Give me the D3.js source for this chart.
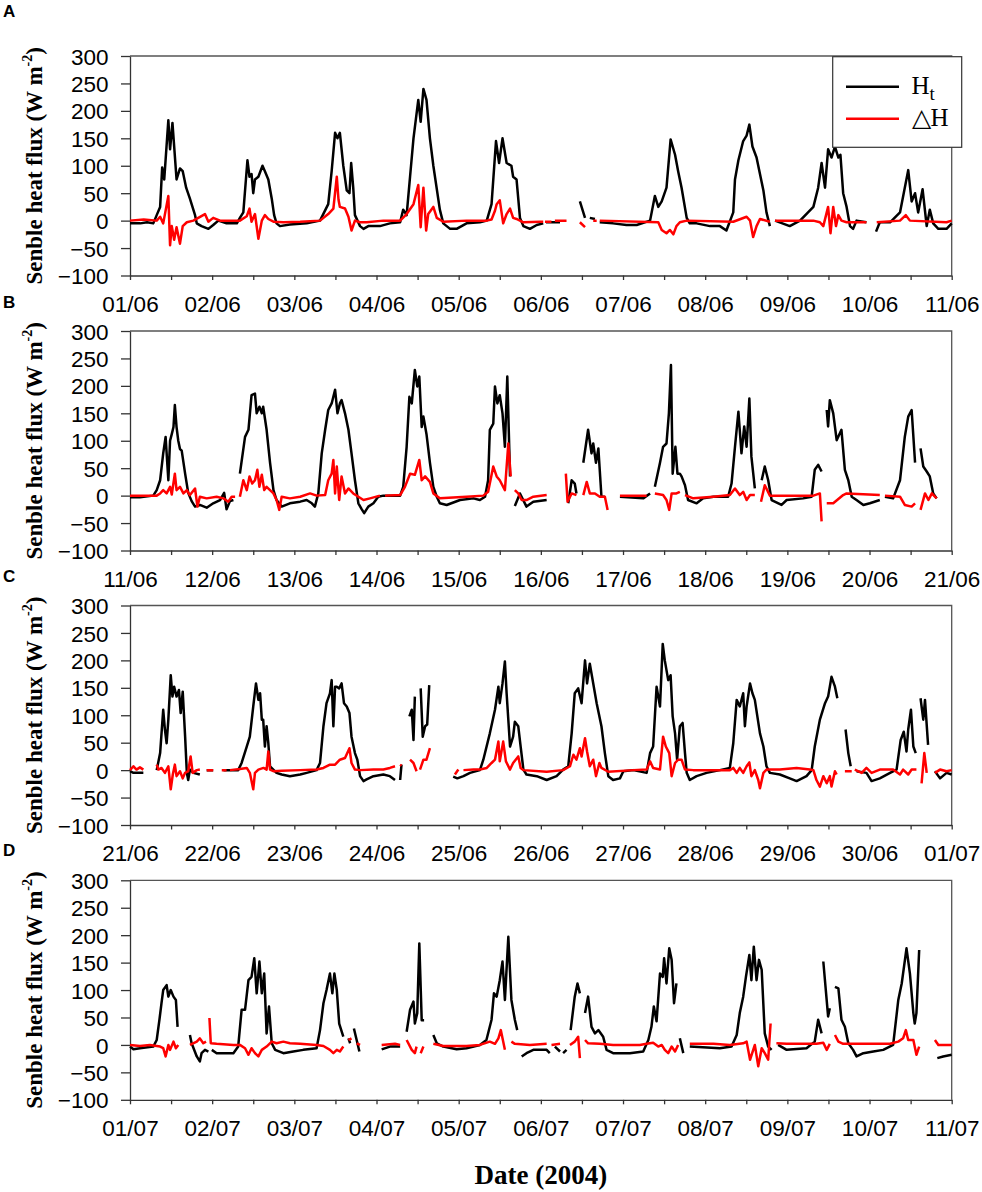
<!DOCTYPE html>
<html>
<head>
<meta charset="utf-8">
<script src="https://cdn.jsdelivr.net/npm/d3@7"></script>
<style>
  body { margin: 0; background: #fff; }
  svg { display: block; }
  .tick text { font-family: "Liberation Sans", Arial, sans-serif; font-size: 22.5px; fill: #000; }
</style>
</head>
<body>
<div id="chart"></div>
<script>
'use strict';

// time is in hours from the first tick of each panel, values in W m-2
// a null value breaks the line (missing data)
const A_Ht = [[0,-5],[3,-5],[5,-3],[6.8,-5],[7.8,10],[8.8,25],[9.4,97],[10,75],[11.2,183],[11.7,130],[12.4,178],[13.6,75],[14.6,95],[15.4,90],[16.4,60],[17.5,40],[19,10],[19.5,-5],[20.9,-10],[22.9,-15],[24.3,-8],[25.8,0],[28.2,-5],[31.2,-5],[32.1,5],[33.1,15],[34.3,110],[34.9,80],[35.5,85],[36,50],[36.5,75],[37.5,80],[38.7,100],[39.4,90],[40.4,75],[41.4,40],[42.1,10],[42.8,-5],[43.8,-10],[46.7,-7],[51.6,-5],[55.5,0],[57.9,30],[58.9,90],[59.9,160],[60.6,150],[61.3,160],[62.3,100],[63.3,55],[64.1,50],[64.6,105],[65.2,60],[65.7,10],[67.2,-10],[68.2,-15],[69.6,-10],[73,-10],[75.9,-5],[78.9,-3],[79.8,20],[80.8,10],[81.8,80],[82.8,150],[84.2,220],[84.9,180],[85.7,240],[86.6,220],[87.6,150],[88.6,100],[90.5,20],[91.5,-5],[93.5,-15],[95.4,-15],[98.3,-5],[102.2,-3],[104.2,0],[105.6,30],[106.9,145],[107.8,105],[108.8,150],[110,105],[111.4,100],[111.9,80],[112.9,75],[113.9,5],[114.9,-10],[116.8,-15],[118.8,-8],[120.7,-5],[121,null],[121.5,-3],[125.6,-3],[126,null],[131.4,35],[132.9,5],[133.2,null],[134.3,5],[135.8,3],[136.2,null],[137.2,-3],[141.1,-5],[145,-8],[148,-8],[151.9,0],[153.3,45],[154.3,25],[155.3,35],[156.7,60],[157.9,148],[159.2,120],[160.1,90],[161.1,60],[162.6,5],[163.5,-5],[165.5,-5],[169.4,-10],[172.3,-10],[174.2,-18],[176.2,15],[176.7,75],[177.7,110],[179.1,145],[180.1,155],[180.9,175],[181.8,135],[183,115],[184,85],[185,55],[185.9,15],[186.9,-10],[187.3,null],[188.4,0],[192.7,-10],[195.7,0],[199.6,25],[201,60],[202,105],[203,60],[203.9,130],[204.9,115],[205.9,135],[206.9,115],[207.5,120],[208.3,50],[209.3,25],[210.3,-10],[211.2,-15],[212.2,0],[215.1,-3],[215.5,null],[217.9,-20],[219,-3],[222,-3],[224.9,15],[226.3,60],[227.3,92],[228.3,35],[229.3,50],[230.2,15],[231.5,57],[232.7,-10],[233.6,20],[234.6,-5],[236.1,-15],[238.5,-15],[240,-5]];
const A_dH = [[0,0],[4,2],[7.8,0],[8.8,7],[9.7,-5],[11.2,45],[11.7,-45],[12.2,-10],[12.9,-35],[13.6,-12],[14.6,-42],[15.4,-10],[16.6,-3],[18.5,0],[21.9,12],[22.9,-2],[24.3,5],[26.3,0],[32.1,0],[34.1,8],[34.9,22],[35.5,-2],[36.5,12],[37.5,-33],[38.5,0],[39.4,10],[40.4,3],[41.9,-2],[44.8,-3],[49.7,-2],[55.5,0],[57.9,12],[59.4,22],[60.4,80],[60.9,38],[61.3,25],[62.8,22],[63.8,7],[64.7,-18],[65.7,0],[67.2,-3],[69.1,-3],[74,0],[78.9,0],[80.8,12],[82.8,30],[84.2,65],[84.9,-12],[85.7,60],[86.5,-18],[87.1,12],[88.6,25],[89.6,5],[91.5,-2],[98.3,0],[104.2,0],[105.6,2],[106.6,18],[107.1,30],[108,37],[109,-5],[110,12],[111,22],[111.9,5],[112.9,3],[114.9,-3],[119.7,-2],[120.7,-2],[121,null],[121.2,-2],[123.1,-2],[123.5,null],[124.1,0],[127.5,0],[127.8,null],[131.4,-3],[132.9,-12],[133.2,null],[135.3,0],[136.3,0],[136.6,null],[137.2,0],[154.3,-3],[155.3,-17],[156.7,-23],[157.7,-17],[158.7,-25],[159.6,-10],[160.6,-3],[162.6,0],[176.2,-2],[180.1,7],[181.1,0],[182,-30],[183,-10],[184,3],[186.9,-2],[187.3,null],[188.4,0],[199.6,0],[201.5,-3],[202.5,-10],[203.9,25],[204.6,-23],[205.4,25],[206.2,-10],[206.9,10],[207.8,0],[209.3,-3],[215.1,-3],[215.5,null],[218.1,-3],[224.9,0],[226.6,10],[227.8,0],[238.5,-3],[240,0]];

const B_Ht = [[0,-3],[2.9,-3],[6.8,0],[7.8,10],[8.8,28],[9.7,77],[10.4,107],[11.2,28],[11.7,100],[12.2,112],[12.7,125],[13.1,165],[13.6,125],[14.1,100],[14.6,85],[15.1,82],[16.1,40],[17,5],[18,-10],[19,-20],[20.4,-17],[22.4,-22],[24.3,-14],[26.3,-8],[27.5,5],[28.2,-25],[29.2,-10],[30.2,-8],[30.6,null],[32.1,40],[33.6,107],[34.6,120],[35.5,183],[36.5,186],[37,150],[37.8,162],[38.5,150],[38.9,162],[39.9,120],[40.9,60],[41.9,10],[42.8,-8],[44.3,-20],[46.7,-14],[49.7,-11],[51.6,-8],[53.1,-14],[54,-20],[55,4],[56,77],[57,120],[57.9,156],[58.9,168],[59.9,193],[60.6,150],[61.3,168],[61.8,174],[62.8,150],[63.8,120],[64.7,77],[65.7,28],[66.7,-14],[67.7,-25],[68.4,-32],[69.6,-20],[71.1,-14],[72.5,-2],[74,0],[78.9,0],[79.8,16],[80.8,89],[81.6,180],[82.3,168],[83.2,229],[83.9,199],[84.5,217],[85.2,125],[85.7,144],[86.6,112],[87.6,60],[88.6,16],[89.6,-2],[90.5,-14],[92.5,-17],[96.4,-8],[100.3,-5],[102.2,-8],[103.7,-2],[104.6,28],[105.1,120],[106.1,131],[106.6,199],[107.3,168],[108,183],[108.8,150],[109.5,89],[110.2,217],[111,35],[111.3,null],[112.4,-19],[113.9,4],[115.8,-20],[117.8,-11],[121.7,-8],[122,null],[128,-14],[129,28],[129.9,22],[130.4,4],[130.7,null],[132.4,60],[133.8,120],[134.8,77],[135.3,95],[136.1,60],[136.8,86],[137.7,-2],[138.7,-2],[139,null],[143.1,-2],[149.9,-5],[151.9,4],[152.3,null],[153.3,16],[154.8,60],[155.7,89],[156.7,95],[157.4,150],[158,238],[158.5,40],[159.3,89],[159.9,40],[160.6,40],[161.1,35],[162.1,19],[163,-8],[165.5,-14],[167.4,-5],[170.4,-2],[174.7,-2],[175.7,22],[176.7,89],[177.7,153],[178.6,77],[179.4,126],[180.1,89],[180.9,177],[181.5,71],[182.5,13],[182.8,null],[184.5,28],[185.4,53],[186.4,28],[187.4,-8],[190.3,-17],[191.8,-8],[196.6,-5],[199.1,-2],[200,47],[201,56],[202,44],[202.3,null],[203.5,156],[203.9,126],[204.4,174],[205.4,150],[206.4,101],[207.8,120],[208.8,47],[209.8,28],[210.8,-2],[212.2,-8],[214.2,-17],[216.1,-14],[219,-8],[219.3,null],[220.5,-2],[222.9,-5],[224.9,28],[226.3,107],[227.3,144],[228.3,156],[229.3,60],[229.6,null],[230.9,86],[231.7,53],[232.7,44],[233.6,35],[234.6,4],[235.6,-5]];
const B_dH = [[0,0],[7.8,0],[8.8,4],[9.7,10],[10.7,4],[11.7,16],[12.2,2],[13.1,40],[13.6,10],[14.6,16],[15.6,4],[16.6,10],[17.5,1],[19,13],[19.7,-20],[20.4,-2],[22.4,-5],[25.3,-2],[27.3,-5],[28.7,-11],[29.7,-2],[30.7,-2],[31,null],[32.1,-2],[33.1,28],[34.1,10],[34.9,35],[35.7,22],[36.5,28],[37.2,47],[37.8,16],[38.5,38],[39.2,10],[39.9,16],[40.9,10],[41.9,4],[42.8,-8],[43.6,-26],[44.3,-2],[46.7,-5],[49.7,-2],[52.6,4],[54.5,0],[57,1],[57.9,28],[58.9,40],[59.4,65],[59.9,4],[60.4,53],[61.1,-8],[61.8,35],[62.8,4],[63.8,13],[65.2,4],[66.7,-2],[68.2,-8],[70.1,-5],[73,0],[73.4,null],[74.5,0],[78.9,1],[80.3,16],[81.8,40],[83.2,38],[84.5,65],[85.2,28],[86.2,35],[87.6,25],[88.6,4],[90.5,-5],[98.3,-2],[103.2,0],[104.6,7],[106.1,53],[107.1,35],[108,28],[109.5,10],[110.5,95],[111.2,35],[111.5,null],[112.4,10],[113.4,4],[114.4,-8],[115.8,-8],[117.8,-2],[121.7,1],[122,null],[127.3,40],[127.8,-11],[129,4],[130.4,1],[130.7,null],[132.4,1],[133.4,25],[134.3,4],[135.8,4],[137.2,-2],[138.7,-2],[139.5,-26],[139.8,null],[143.1,0],[150.9,0],[151.3,null],[153.3,4],[155.7,1],[156.7,-8],[157.5,-26],[158.2,4],[159.6,4],[160.6,7],[160.9,null],[162.1,1],[164.5,-5],[170.4,-2],[175.2,1],[176.7,13],[178.1,1],[179.1,7],[180.1,-8],[181.1,1],[182.5,1],[182.8,null],[184.3,-11],[185.4,19],[186.9,0],[199.6,0],[201.5,4],[202,-47],[202.3,null],[203.5,-14],[205.4,-14],[208.3,1],[209.3,4],[219,1],[219.3,null],[220.5,0],[224.9,-2],[226.3,-17],[228.3,-20],[229.3,-14],[229.6,null],[230.9,-26],[232.2,4],[233.2,-8],[234.2,4],[235.6,-5]];

const C_Ht = [[0,-2],[1,-5],[3.9,-5],[4.2,null],[7.8,0],[8.8,31],[9.7,110],[10.2,74],[10.7,49],[11.2,92],[11.9,173],[12.4,134],[12.9,152],[13.6,134],[14.3,146],[14.8,104],[15.4,143],[16.1,61],[16.6,-5],[17,-18],[17.5,1],[18.5,-5],[20.4,-8],[20.8,null],[22.4,0],[24.3,0],[24.6,null],[27.3,0],[29.2,0],[31.6,0],[32.6,13],[34.1,43],[35,61],[36,116],[36.8,158],[37.5,128],[38,140],[38.5,92],[38.9,92],[39.4,43],[39.9,80],[40.4,49],[40.9,7],[42.8,-5],[44.3,-8],[46.7,-11],[49.7,-8],[51.6,-5],[54.5,0],[55.5,13],[56.5,80],[57.4,122],[58.4,140],[58.9,164],[59.4,80],[59.9,152],[60.4,152],[61.1,149],[61.8,158],[62.5,122],[63.3,116],[64.1,104],[64.7,61],[65.7,31],[66.4,19],[67.2,-11],[68.2,-20],[69.1,-17],[71.1,-11],[74,-8],[75.9,-11],[77.4,-18],[77.7,null],[78.9,-18],[79.3,10],[79.6,null],[81.6,98],[82.3,110],[82.8,55],[83.2,134],[83.5,null],[84.9,149],[85.5,61],[86.2,80],[86.8,83],[87.4,155],[87.7,null],[94.4,-12],[95.6,-15],[97.4,-11],[99.3,-5],[102.2,0],[103.2,19],[105.1,67],[106.6,110],[107.6,152],[108,122],[108.8,158],[109.5,198],[110,140],[111,43],[111.9,61],[112.4,88],[113.4,80],[114.1,43],[114.9,1],[115.8,-8],[118.8,-11],[121.7,-18],[124.6,-11],[126.5,1],[128,7],[129,67],[129.9,140],[130.9,149],[131.9,122],[132.9,200],[133.5,158],[134.3,194],[135.3,158],[136.3,122],[137.7,80],[138.7,31],[139.7,-11],[141.1,-18],[143.1,-15],[144.1,-2],[147,0],[150.9,-5],[151.9,31],[152.8,43],[153.8,152],[154.8,116],[155.6,230],[156.2,200],[157.2,164],[157.9,173],[158.5,98],[159.2,67],[159.8,19],[160.6,80],[161.4,86],[162.1,31],[162.6,-5],[163.5,-18],[165.5,-11],[168.4,-5],[172.3,0],[175.2,4],[176.2,49],[177.2,128],[178.1,116],[179.1,140],[179.6,80],[180.1,116],[181.1,158],[181.8,140],[182.5,128],[184,67],[185,43],[185.9,7],[186.9,-5],[189.8,-8],[192.7,-15],[194.7,-20],[197.6,-11],[199.1,0],[200,43],[201.5,92],[203,122],[203.9,134],[204.9,170],[205.9,152],[206.6,131],[206.9,null],[209,74],[209.8,31],[210.5,7],[210.8,null],[212.2,-2],[215.1,-5],[216.6,-20],[219,-15],[222,-5],[223.9,1],[225.1,55],[226,70],[226.8,34],[227.3,74],[228.1,110],[228.8,43],[229.5,31],[229.8,null],[230.9,131],[231.7,92],[232.2,128],[233.1,46],[233.4,null],[235.1,-2],[236.6,-15],[238.5,-5],[240,-8]];
const C_dH = [[0,0],[1,7],[1.9,1],[2.9,5],[3.9,1],[4.2,null],[7.8,10],[8.3,1],[9.2,4],[10.2,-5],[11.2,7],[11.9,-35],[12.5,-8],[13.1,10],[13.6,-11],[14.6,-2],[15.4,-15],[16.1,-5],[17,-2],[17.7,25],[18.3,-5],[19.5,0],[20.4,1],[20.8,null],[22.4,0],[24.3,0],[24.6,null],[26.8,0],[28.2,0],[28.5,null],[29.2,0],[32.1,2],[34.1,4],[35,-5],[36,-35],[36.5,-5],[37.5,1],[39,4],[39.9,1],[40.4,34],[40.9,1],[41.9,-2],[44.3,-1],[49.7,0],[54.5,1],[56.5,4],[58.4,10],[59.9,10],[61.3,19],[62.8,22],[64.1,40],[64.7,13],[65.7,1],[67.2,0],[71.1,1],[74,1],[75.9,4],[77.4,7],[77.7,null],[78.9,10],[79.3,8],[79.6,null],[81.8,19],[82.8,13],[83.7,-2],[84,null],[84.7,1],[85.7,19],[86.6,19],[87.6,40],[87.9,null],[94.9,-8],[95.9,1],[96.2,null],[97.4,0],[100.3,1],[102.2,1],[104.2,4],[105.6,13],[106.6,19],[107.6,52],[108,16],[109,52],[109.8,16],[111,1],[111.9,13],[113.4,25],[114.1,4],[114.9,0],[121.7,-3],[126.5,0],[128.5,7],[129.5,28],[130.4,19],[131.4,40],[131.9,25],[132.9,58],[133.5,34],[134.3,7],[135.3,19],[136.1,-11],[137.1,13],[137.7,4],[139.7,-3],[147,0],[150.9,1],[151.9,16],[152.8,4],[154.8,1],[155.7,61],[156.5,43],[157.5,31],[158.2,-11],[159.2,13],[160.1,19],[161.1,19],[162.1,1],[164.5,0],[175.2,0],[176.2,4],[177.2,-5],[178.1,4],[179.1,-5],[180.1,7],[180.9,14],[181.5,-11],[182.5,0],[183.5,-18],[184,-33],[185,-5],[185.9,1],[189.8,1],[194.7,4],[198.6,1],[199.6,0],[200.5,-18],[201.5,-30],[202.5,-11],[203.5,-24],[204.4,-11],[204.9,-30],[205.9,-2],[206.4,-8],[206.7,null],[208.8,-2],[210.8,-2],[211.1,null],[211.7,1],[213.7,-5],[215.1,4],[216.6,-5],[219,1],[222.9,1],[224.9,-8],[225.8,1],[227.3,-8],[228.3,1],[229.7,1],[230,null],[231.2,-24],[232,31],[232.7,-5],[233,null],[235.1,-5],[236.6,1],[238.5,-2],[240,0]];

const D_Ht = [[0,-3],[1,-8],[2.9,-6],[6.8,-3],[7.8,9],[8.6,46],[9.2,76],[9.7,100],[10.7,109],[11.2,88],[11.9,100],[12.7,88],[13.4,82],[13.9,33],[14.2,null],[17.5,18],[18,3],[19.5,-21],[20.4,-30],[20.9,-15],[21.9,-9],[22.9,-12],[23.2,null],[23.9,-9],[25.3,-15],[30.2,-15],[31.6,-3],[32.6,64],[33.6,64],[34.6,118],[35.5,124],[36.3,158],[37,94],[37.8,152],[38.5,94],[39.2,130],[39.9,21],[40.6,70],[41.4,3],[42.4,-9],[44.8,-15],[47.7,-12],[50.6,-9],[54.5,-6],[55.5,27],[56.5,76],[57.4,100],[58.4,130],[59.1,94],[59.7,130],[60.4,100],[61.1,39],[62.3,15],[62.6,null],[63.8,12],[64.3,3],[64.6,null],[65.4,30],[66.2,9],[67,-12],[67.3,null],[73.5,-8],[75.9,-3],[78.9,-3],[79.2,null],[80.8,24],[81.8,64],[82.8,79],[83.2,39],[83.9,58],[84.5,185],[85.2,45],[85.9,45],[86.2,null],[88.6,18],[89.6,3],[91.5,-3],[95.4,-8],[98.3,-6],[102.2,0],[104.1,9],[105.6,46],[106.3,94],[107.1,88],[108,118],[108.8,152],[109.5,82],[110.5,197],[111.4,82],[112.4,46],[113.1,27],[113.4,null],[114.4,-21],[115.8,-15],[117.8,-9],[121.7,-9],[122.6,-15],[122.9,null],[124.1,-3],[125.6,-12],[125.9,null],[126.5,-15],[127.5,-9],[127.8,null],[128.7,27],[129.9,88],[130.7,112],[131.4,94],[131.7,null],[132.9,58],[133.8,88],[134.8,33],[135.8,21],[136.8,27],[138.2,15],[139.2,-9],[141.1,-15],[146,-15],[149.9,-12],[151.4,9],[152.3,33],[153,70],[153.8,43],[154.8,130],[155.6,124],[156,158],[156.7,112],[157.5,176],[158.2,155],[158.9,76],[159.6,112],[159.9,null],[160.6,12],[161.6,-15],[161.9,null],[163.5,-3],[172.3,-6],[175.7,-3],[177.2,18],[178.1,58],[179.1,88],[179.9,124],[180.9,164],[181.5,118],[182.2,179],[183,118],[183.7,155],[184.5,137],[185.4,21],[186.4,-3],[187.4,-9],[187.7,null],[189.3,0],[191.8,-9],[197.6,-6],[200,6],[201,46],[202,21],[202.3,null],[202.5,152],[203.9,52],[204.4,67],[204.7,null],[205.9,106],[206.9,103],[207.8,46],[208.8,33],[209.8,3],[211.2,-9],[212.2,-21],[214.2,-15],[217.1,-12],[220,-9],[222.9,0],[224.4,82],[225.4,112],[226.8,176],[227.8,130],[228.8,58],[229.2,39],[229.7,58],[230.5,173],[230.8,null],[235.8,-24],[237.5,-21],[240,-18]];
const D_dH = [[0,0],[2.9,-2],[5.8,0],[8.8,-3],[9.7,-6],[10.4,-21],[11.2,0],[11.7,-9],[12.7,6],[13.4,-6],[14.1,0],[14.4,null],[17.5,0],[19.5,6],[20.4,12],[21.4,3],[22.2,6],[22.5,null],[23.2,49],[23.6,3],[25.3,2],[30.2,0],[32.1,0],[33.6,-6],[34.6,-18],[35.5,-6],[36.5,-15],[37.5,-21],[38.5,-9],[39.9,-3],[41.4,6],[42.8,3],[44.8,6],[46.7,3],[49.7,2],[54.5,0],[56.5,-2],[58.4,-9],[59.4,-15],[60.4,-9],[61.3,-12],[62.3,-3],[62.6,null],[63.8,9],[64.7,12],[65,null],[66.2,3],[67.2,0],[67.5,null],[73.5,0],[77.4,2],[78.9,0],[79.2,null],[80.8,9],[82.3,-9],[83.2,-15],[83.7,-3],[84,null],[84.9,-15],[85.7,-3],[86,null],[88.6,2],[91.5,-2],[98.3,-2],[102.2,0],[105.1,6],[106.6,2],[107.6,12],[108.3,27],[109.5,-9],[109.8,null],[111.4,6],[112.4,2],[116.8,0],[121.7,2],[122,null],[123.1,0],[125.6,2],[125.9,null],[128.5,0],[129.9,6],[130.9,15],[131.4,-24],[131.7,null],[132.9,9],[133.8,3],[137.2,2],[141.1,0],[148.9,0],[150.9,2],[152.8,4],[154.3,-3],[155.3,0],[156.2,-9],[157.2,-15],[158.2,-3],[159.2,-12],[160.1,0],[160.4,null],[163.5,2],[170.4,2],[175.2,0],[179.1,3],[180.1,6],[181.1,-27],[182.5,0],[183.5,-39],[184.5,-6],[185.4,-15],[186.4,-27],[187.1,39],[187.4,null],[188.8,3],[191.8,2],[197.6,2],[200.5,2],[202.5,4],[203.5,-9],[204.4,2],[204.7,null],[205.9,18],[206.9,6],[208.3,2],[214.2,2],[222,2],[224.4,6],[225.8,12],[226.6,27],[227.3,9],[228.8,9],[229.7,-18],[230.5,-3],[230.8,null],[235.1,9],[236.1,0],[240,0]];

// day labels under each panel (one per 24 h)
const ticksA = ["01/06","02/06","03/06","04/06","05/06","06/06","07/06","08/06","09/06","10/06","11/06"];
const ticksB = ["11/06","12/06","13/06","14/06","15/06","16/06","17/06","18/06","19/06","20/06","21/06"];
const ticksC = ["21/06","22/06","23/06","24/06","25/06","26/06","27/06","28/06","29/06","30/06","01/07"];
const ticksD = ["01/07","02/07","03/07","04/07","05/07","06/07","07/07","08/07","09/07","10/07","11/07"];
const yTicks = [-100, -50, 0, 50, 100, 150, 200, 250, 300];
const panelNames = ["A", "B", "C", "D"];

const panels = [
  {name: panelNames[0], ht: A_Ht, dh: A_dH, labels: ticksA},
  {name: panelNames[1], ht: B_Ht, dh: B_dH, labels: ticksB},
  {name: panelNames[2], ht: C_Ht, dh: C_dH, labels: ticksC},
  {name: panelNames[3], ht: D_Ht, dh: D_dH, labels: ticksD}
];

const width = 982;
const height = 1192;
const left = 130;
const right = 951.7;
const tops = [56, 331, 605.5, 880.3];
const letterY = [17, 308, 582, 856];
const ph = 219.5;

const svg = d3.select("#chart").append("svg")
  .attr("width", width)
  .attr("height", height);

const x = d3.scaleLinear().domain([0, 240]).range([left, right]);

panels.forEach(function(p, i) {
  const top = tops[i];
  const y = d3.scaleLinear().domain([-100, 300]).range([top + ph, top]);
  const g = svg.append("g").attr("class", "panel");

  // frame: top and right edges
  g.append("path")
    .attr("d", `M${left},${top}H${right}V${top + ph}`)
    .attr("fill", "none")
    .attr("stroke", "#555")
    .attr("stroke-width", 1.3);

  // y axis
  const yAxis = d3.axisLeft(y)
    .tickValues(yTicks)
    .tickSizeInner(9)
    .tickSizeOuter(0)
    .tickPadding(12.5);
  const ya = g.append("g")
    .attr("transform", `translate(${left},0)`)
    .call(yAxis);
  ya.selectAll("text").attr("dy", "0.36em");

  // x axis, ticks every 12 h, labels every day
  const xAxis = d3.axisBottom(x)
    .tickValues(d3.range(0, 241, 12))
    .tickSizeInner(4.5)
    .tickSizeOuter(0)
    .tickFormat(d => d % 24 === 0 ? p.labels[d / 24] : "");
  const xa = g.append("g")
    .attr("transform", `translate(0,${top + ph})`)
    .call(xAxis);
  xa.selectAll("text").attr("y", 36).attr("dy", 0);

  [ya, xa].forEach(a => {
    a.select(".domain").attr("stroke", "#333").attr("stroke-width", 1.3);
    a.selectAll(".tick line").attr("stroke", "#333").attr("stroke-width", 1.3);
  });

  const line = d3.line()
    .defined(d => d[1] !== null)
    .x(d => x(d[0]))
    .y(d => y(d[1]));

  g.append("path")
    .datum(p.ht)
    .attr("d", line)
    .attr("fill", "none")
    .attr("stroke", "#000")
    .attr("stroke-width", 2.5)
    .attr("stroke-linejoin", "round");

  g.append("path")
    .datum(p.dh)
    .attr("d", line)
    .attr("fill", "none")
    .attr("stroke", "#ff0000")
    .attr("stroke-width", 2.5)
    .attr("stroke-linejoin", "round");

  // panel letter
  svg.append("text")
    .attr("x", 3)
    .attr("y", letterY[i])
    .style("font-family", "'Liberation Sans', Arial, sans-serif")
    .style("font-weight", "bold")
    .style("font-size", "17px")
    .text(p.name);

  // y axis title
  const yt = svg.append("text")
    .attr("transform", `translate(41.5,${top + ph / 2}) rotate(-90)`)
    .attr("text-anchor", "middle")
    .style("font-family", "'Liberation Serif', 'Times New Roman', serif")
    .style("font-weight", "bold")
    .style("font-size", "23px");
  yt.append("tspan").text("Senble heat flux (W m");
  yt.append("tspan").attr("dy", -10).style("font-size", "14px").text("-2");
  yt.append("tspan").attr("dy", 10).text(")");
});

// legend (panel A only)
const lg = svg.append("g").attr("class", "legend");
lg.append("rect")
  .attr("x", 832.7).attr("y", 56.7)
  .attr("width", 129).attr("height", 90.6)
  .attr("fill", "#fff")
  .attr("stroke", "#333")
  .attr("stroke-width", 1.2);
const legendItems = [
  {color: "#000", main: "H", sub: "t"},
  {color: "#ff0000", main: "\u25B3H", sub: ""}
];
legendItems.forEach(function(it, k) {
  const ly = 86.7 + k * 32;
  lg.append("line")
    .attr("x1", 846).attr("x2", 899)
    .attr("y1", ly).attr("y2", ly)
    .attr("stroke", it.color)
    .attr("stroke-width", 2.6);
  const t = lg.append("text")
    .attr("x", 911.5)
    .attr("y", ly + 7.5)
    .style("font-family", "'Liberation Serif', 'Times New Roman', serif")
    .style("font-size", "25px");
  t.append("tspan").text(it.main);
  if (it.sub) t.append("tspan").attr("dy", 6).style("font-size", "19px").text(it.sub);
});

// x axis title
svg.append("text")
  .attr("x", (left + right) / 2)
  .attr("y", 1184)
  .attr("text-anchor", "middle")
  .style("font-family", "'Liberation Serif', 'Times New Roman', serif")
  .style("font-weight", "bold")
  .style("font-size", "27px")
  .text("Date (2004)");
</script>
</body>
</html>
